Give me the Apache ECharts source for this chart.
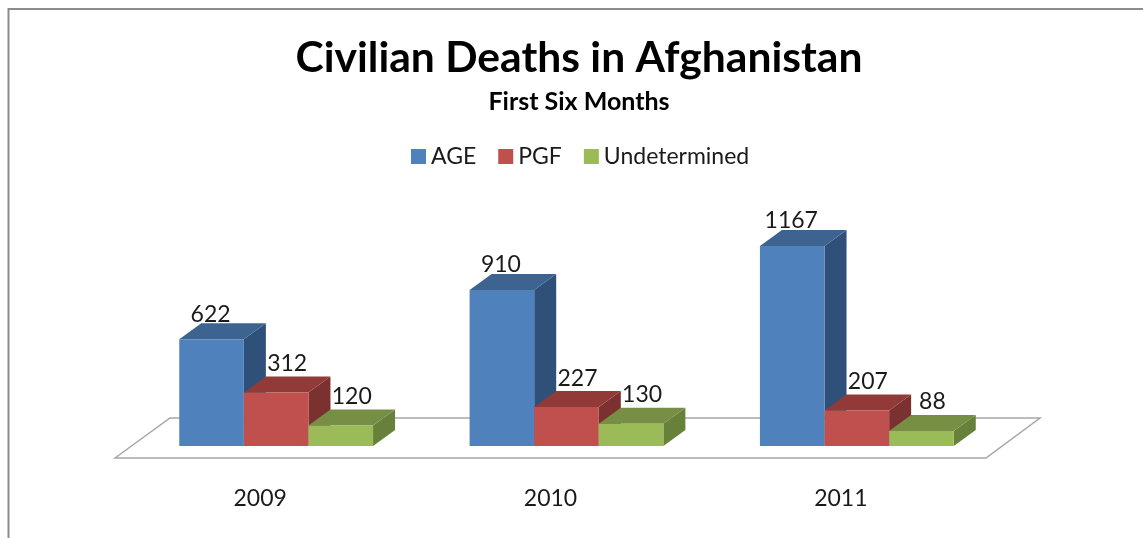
<!DOCTYPE html>
<html><head><meta charset="utf-8">
<style>html,body{margin:0;padding:0;background:#fff}#c{width:1143px;height:538px}</style>
<script src="https://cdn.jsdelivr.net/npm/echarts@6/dist/echarts.min.js"></script>
</head><body><div id="c"></div>
<script>
const categories = ['2009', '2010', '2011'];
const seriesNames = ['AGE', 'PGF', 'Undetermined'];
const age = [622, 910, 1167];
const pgf = [312, 227, 207];
const undetermined = [120, 130, 88];
const titleText = 'Civilian Deaths in Afghanistan';
const subtitleText = 'First Six Months';

const FONT = 'Lato';
const DEPTH_X = 22, DEPTH_Y = 16;
const palette = [
  { front: '#4f81bd', top: '#3d6491', side: '#2f5179' },
  { front: '#c0504d', top: '#923a38', side: '#7b312f' },
  { front: '#9bbb59', top: '#778f44', side: '#67803a' }
];
const labelShift = [[-1, -25], [11, -29], [11, -29]];

function barRenderer(idx) {
  return function (params, api) {
    const cat = api.value(0);
    const base = api.coord([cat, 0]);
    const topPt = api.coord([cat, api.value(1)]);
    const band = api.size([1, 0])[0];
    const w = band * 0.2225;
    const x0 = base[0] + 16 - 1.5 * w + idx * w;
    const x1 = x0 + w, yT = topPt[1], yB = base[1];
    const c = palette[idx];
    return {
      type: 'group',
      children: [
        { type: 'polygon', shape: { points: [[x1, yT], [x1 + DEPTH_X, yT - DEPTH_Y], [x1 + DEPTH_X, yB - DEPTH_Y], [x1, yB]] }, style: { fill: c.side } },
        { type: 'polygon', shape: { points: [[x0, yT], [x0 + DEPTH_X, yT - DEPTH_Y], [x1 + DEPTH_X, yT - DEPTH_Y], [x1, yT]] }, style: { fill: c.top } },
        { type: 'rect', shape: { x: x0, y: yT, width: w, height: yB - yT }, style: { fill: c.front } },
        { type: 'text', z2: 10, style: {
            text: String(api.value(1)),
            x: x0 + w / 2 + labelShift[idx][0], y: yT + labelShift[idx][1],
            align: 'center', verticalAlign: 'middle',
            font: '23px "' + FONT + '"', fill: '#1a1a1a' } }
      ]
    };
  };
}

function floorRenderer(params) {
  const g = params.coordSys;
  const left = g.x, right = g.x + g.width, yFront = g.y + g.height + 12;
  return {
    type: 'polygon',
    shape: { points: [[left, yFront], [left + 55, yFront - 40], [right + 54, yFront - 40], [right, yFront]] },
    style: { fill: '#fff', stroke: '#a6a6a6', lineWidth: 1.5 }
  };
}

const rows = a => a.map((v, i) => [i, v]);
const chart = echarts.init(document.getElementById('c'), null, { renderer: 'canvas' });
chart.setOption({
  animation: false,
  backgroundColor: '#fff',
  title: [
    { text: titleText, left: 574, top: 32, textAlign: 'center',
      textStyle: { fontFamily: 'Lato', fontWeight: 'bold', fontSize: 42.6, color: '#000' } },
    { text: subtitleText, left: 574, top: 84, textAlign: 'center',
      textStyle: { fontFamily: 'Lato', fontWeight: 'bold', fontSize: 25, color: '#000' } }
  ],
  legend: {
    data: seriesNames, left: 406, top: 140, icon: 'rect',
    itemWidth: 15, itemHeight: 15, itemGap: 22, selectedMode: false,
    textStyle: { fontFamily: FONT, fontSize: 23, color: '#1a1a1a' }
  },
  grid: { left: 115, width: 871, top: 206, height: 240 },
  xAxis: { type: 'category', data: categories,
    axisLine: { show: false }, axisTick: { show: false },
    axisLabel: { margin: 41, fontFamily: FONT, fontSize: 23, color: '#1a1a1a' } },
  yAxis: { type: 'value', min: 0, max: 1400, show: false, splitLine: { show: false } },
  graphic: [{ type: 'polyline', silent: true,
    shape: { points: [[1143, 9], [8.5, 9], [8.5, 538]] },
    style: { stroke: '#8c8c8c', lineWidth: 2, fill: null } }],
  series: [
    { type: 'custom', name: 'floor', coordinateSystem: 'cartesian2d', renderItem: floorRenderer, data: [[0, 0]], silent: true, z: 1 },
    { type: 'custom', name: seriesNames[0], renderItem: barRenderer(0), data: rows(age), encode: { x: 0, y: 1 }, itemStyle: { color: palette[0].front }, z: 2 },
    { type: 'custom', name: seriesNames[1], renderItem: barRenderer(1), data: rows(pgf), encode: { x: 0, y: 1 }, itemStyle: { color: palette[1].front }, z: 3 },
    { type: 'custom', name: seriesNames[2], renderItem: barRenderer(2), data: rows(undetermined), encode: { x: 0, y: 1 }, itemStyle: { color: palette[2].front }, z: 4 }
  ]
});
</script></body></html>
